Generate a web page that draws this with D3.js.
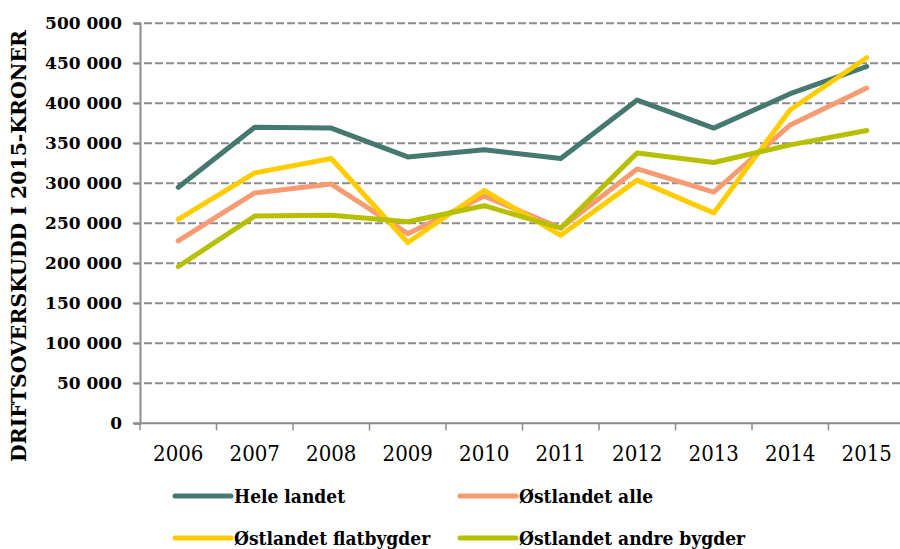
<!DOCTYPE html>
<html>
<head>
<meta charset="utf-8">
<script src="https://cdn.jsdelivr.net/npm/d3@7"></script>
<style>
  body { margin: 0; background: #fff; }
  text { font-family: "DejaVu Serif", serif; fill: #000; }
  .cond { font-stretch: condensed; font-family: "DejaVu Serif Condensed", "DejaVu Serif", serif; }
</style>
</head>
<body>
<div id="chart"></div>
<script>
var years = [2006, 2007, 2008, 2009, 2010, 2011, 2012, 2013, 2014, 2015];
var heleLandet = [295000, 370000, 369000, 333000, 342000, 331000, 404000, 369000, 412000, 446000];
var ostAlle = [228000, 288000, 299000, 237000, 284000, 244000, 318000, 289000, 373000, 419000];
var ostFlat = [255000, 313000, 331000, 226000, 291000, 235000, 304000, 263000, 392000, 457000];
var ostAndre = [196000, 259000, 260000, 252000, 272000, 244000, 338000, 326000, 348000, 366000];
var seriesNames = ["Hele landet", "Østlandet alle", "Østlandet flatbygder", "Østlandet andre bygder"];
var yTicks = [0, 50000, 100000, 150000, 200000, 250000, 300000, 350000, 400000, 450000, 500000];

var series = [
  {name: seriesNames[0], values: heleLandet, color: "#45786e"},
  {name: seriesNames[1], values: ostAlle, color: "#f79b72"},
  {name: seriesNames[2], values: ostFlat, color: "#ffcc00"},
  {name: seriesNames[3], values: ostAndre, color: "#b7c000"}
];

var width = 900, height = 549;
var svg = d3.select("#chart").append("svg")
  .attr("width", width)
  .attr("height", height);

var x = d3.scaleBand().domain(years).range([140, 905]);
var y = d3.scaleLinear().domain([0, 500000]).range([423.3, 23.3]);

var nb = d3.formatLocale({decimal: ",", thousands: "\u00a0", grouping: [3], currency: ["", ""]});
var fmt = nb.format(",d");

// gridlines
svg.append("g")
  .selectAll("line")
  .data(yTicks.filter(d => d > 0))
  .enter().append("line")
  .attr("x1", 133).attr("x2", width)
  .attr("y1", d => y(d)).attr("y2", d => y(d))
  .attr("stroke", "#8c8c8c")
  .attr("stroke-width", 2)
  .attr("stroke-dasharray", "8,3");

// y axis
var yAxis = svg.append("g")
  .attr("transform", "translate(140,0)")
  .call(d3.axisLeft(y).tickValues(yTicks).tickFormat(fmt).tickSize(6).tickPadding(12));
yAxis.select(".domain").attr("stroke", "#8c8c8c").attr("stroke-width", 2);
yAxis.selectAll(".tick line").attr("stroke", "#8c8c8c").attr("stroke-width", 1.5);
yAxis.selectAll("text")
  .style("font-family", "DejaVu Serif, serif")
  .style("font-weight", "bold")
  .style("font-size", "17px");

// x axis
var xAxis = svg.append("g")
  .attr("transform", "translate(0," + y(0) + ")")
  .call(d3.axisBottom(x).tickSize(0).tickPadding(22));
xAxis.select(".domain").remove();
svg.append("line")
  .attr("x1", 133).attr("x2", width)
  .attr("y1", y(0)).attr("y2", y(0))
  .attr("stroke", "#8c8c8c").attr("stroke-width", 2);
svg.append("g")
  .selectAll("line")
  .data(years)
  .enter().append("line")
  .attr("x1", d => x(d)).attr("x2", d => x(d))
  .attr("y1", y(0)).attr("y2", y(0) + 7)
  .attr("stroke", "#8c8c8c").attr("stroke-width", 1.5);
xAxis.selectAll("text")
  .attr("class", "cond")
  .style("font-size", "22px");

// y title
svg.append("text")
  .attr("class", "cond")
  .attr("transform", "translate(26,246) rotate(-90)")
  .attr("text-anchor", "middle")
  .style("font-weight", "bold")
  .style("font-size", "21px")
  .attr("textLength", 432)
  .attr("lengthAdjust", "spacingAndGlyphs")
  .text("DRIFTSOVERSKUDD I 2015-KRONER");

// lines
var line = d3.line()
  .x((d, i) => x(years[i]) + x.bandwidth() / 2)
  .y(d => y(d));

series.forEach(function(s) {
  svg.append("path")
    .datum(s.values)
    .attr("fill", "none")
    .attr("stroke", s.color)
    .attr("stroke-width", 5)
    .attr("stroke-linejoin", "round")
    .attr("stroke-linecap", "round")
    .attr("d", line);
});

// legend
var legendPos = [[175, 496], [460, 496], [175, 538], [460, 538]];
var legend = svg.selectAll(".legend")
  .data(series)
  .enter().append("g")
  .attr("class", "legend")
  .attr("transform", (d, i) => "translate(" + legendPos[i][0] + "," + legendPos[i][1] + ")");

legend.append("line")
  .attr("x1", 0).attr("x2", 56)
  .attr("stroke", d => d.color)
  .attr("stroke-width", 5)
  .attr("stroke-linecap", "round");

legend.append("text")
  .attr("class", "cond")
  .attr("x", 59)
  .attr("y", 7)
  .style("font-size", "19px")
  .style("font-weight", "bold")
  .text(d => d.name);
</script>
</body>
</html>
